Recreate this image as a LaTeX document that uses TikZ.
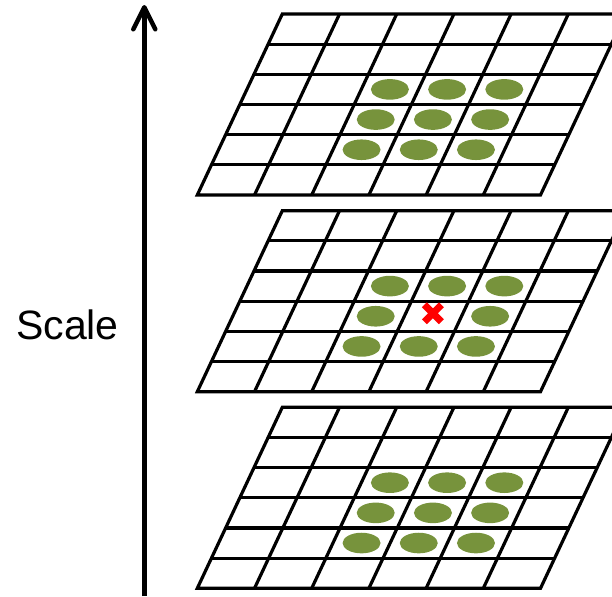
\documentclass[tikz,border=0pt]{standalone}
\usepackage{fontspec}
\setmainfont{Liberation Sans}
\usetikzlibrary{arrows.meta}
\definecolor{blobgreen}{RGB}{119,147,60}

\begin{document}
\begin{tikzpicture}[x=1pt,y=1pt]
            \clip (0,0) rectangle (612,596);

            % three layers, lowest first
            \foreach \lay/\ly in {low/7.7,mid/204.3,high/401}{
                \begin{scope}[shift={(197.3pt,\ly pt)},x={(57.2pt,0pt)},y={(14.17pt,30.17pt)},line width=3.2pt]
                    \draw (0,0) -- (6,0) -- (6,6) -- (0,6) -- cycle;
                    \foreach \k in {1,...,5}{
                        \draw (\k,0) -- (\k,6);
                        \draw (0,\k) -- (6,\k);
                    }
                    \foreach \c/\r in {2/1,3/1,4/1,2/2,4/2,2/3,3/3,4/3}
                        \fill[blobgreen] (\c+0.5,\r+0.5) ellipse [x radius=19pt, y radius=10.3pt];
                    \coordinate (\lay-c) at (3.5,2.5);
                \end{scope}
            }

            \fill[blobgreen] (low-c) ellipse [x radius=19pt, y radius=10.3pt];
            \fill[blobgreen] (high-c) ellipse [x radius=19pt, y radius=10.3pt];
            \coordinate (cross) at ([shift={(0,3)}]mid-c);
            \draw[red, line width=7pt] (cross) +(-8.5,-8.5) -- +(8.5,8.5) (cross) +(-8.5,8.5) -- +(8.5,-8.5);

            % scale axis
            \coordinate (foot) at (144.3,0);
            \coordinate (tip) at (144.3,591);
            \draw[line width=4.5pt, -{Straight Barb[length=22pt,width=22pt,round]}] (foot) -- (tip);
            \node[anchor=base, font=\fontsize{41}{49}\selectfont] (scale) at (67.5,256) {Scale};
        \end{tikzpicture}
\end{document}
